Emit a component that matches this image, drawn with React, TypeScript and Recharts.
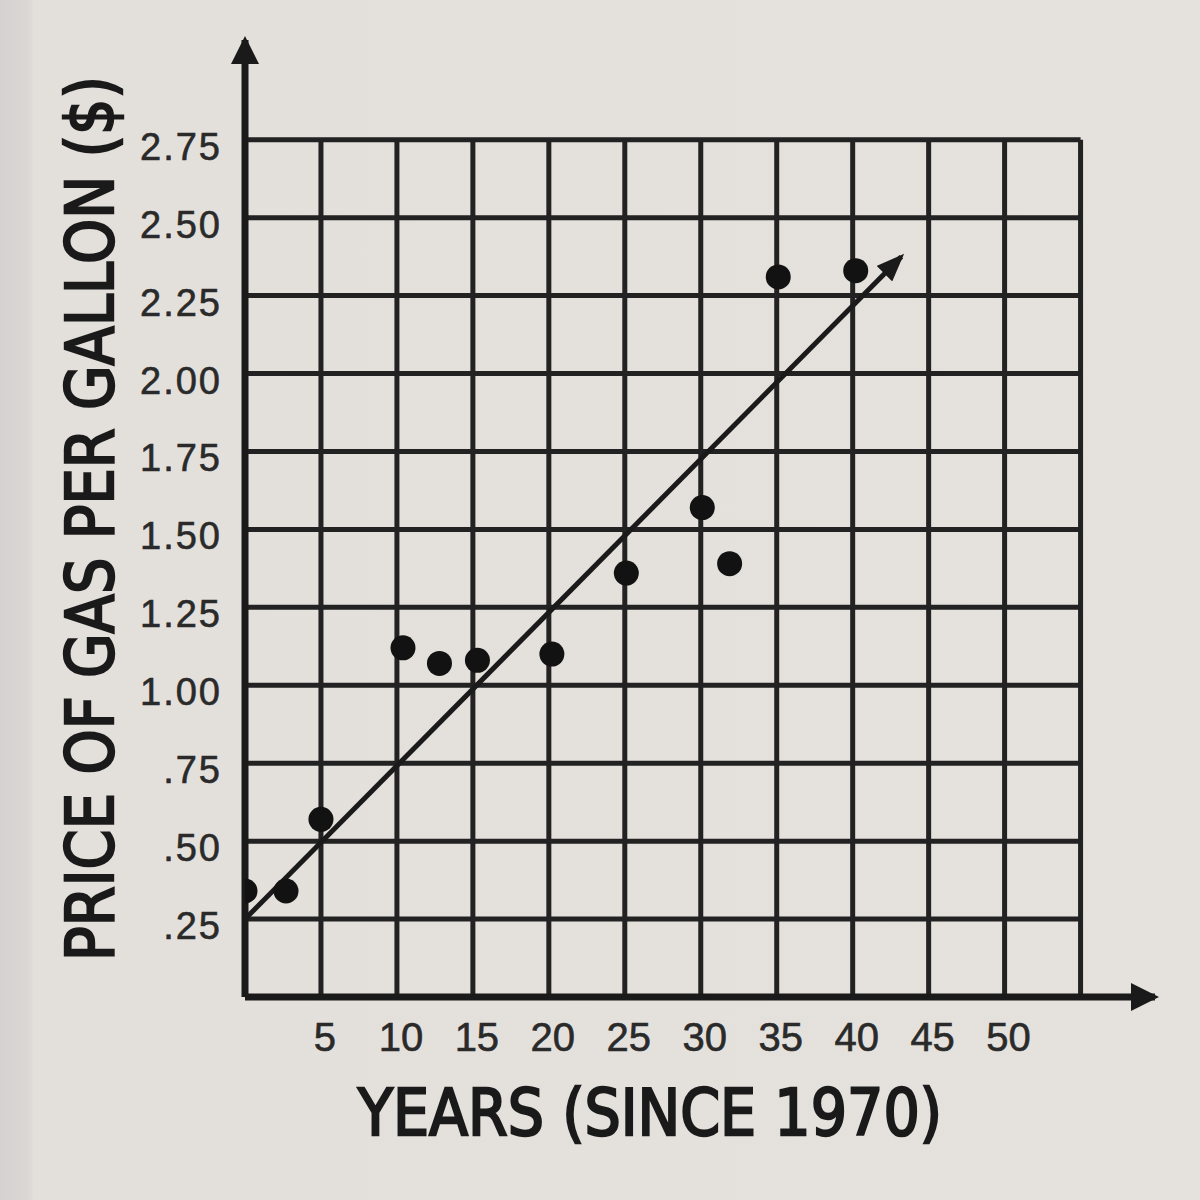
import {
  ComposedChart,
  XAxis,
  YAxis,
  Scatter,
  Line,
  ReferenceLine,
  Label,
} from "recharts";

const YEARS = [0, 2.7, 5, 10.4, 12.8, 15.3, 20.2, 25.1, 30.1, 31.9, 35.1, 40.2];
const PRICES = [0.34, 0.34, 0.57, 1.12, 1.07, 1.08, 1.1, 1.36, 1.57, 1.39, 2.31, 2.33];

// hand-drawn line of best fit (start, arrow tip)
const FIT_YEARS = [0, 43.2];
const FIT_PRICES = [0.25, 2.375];

const X_TICKS = [5, 10, 15, 20, 25, 30, 35, 40, 45, 50];
const Y_TICKS = [0.25, 0.5, 0.75, 1, 1.25, 1.5, 1.75, 2, 2.25, 2.5, 2.75];
const GRID_X = [0, 5, 10, 15, 20, 25, 30, 35, 40, 45, 50, 55];
const GRID_Y = [0, 0.25, 0.5, 0.75, 1, 1.25, 1.5, 1.75, 2, 2.25, 2.5, 2.75];

// axes run a little past the grid to their arrowheads
const X_MAX = 59.9;
const Y_MAX = 3.07;

const points = YEARS.map((year, i) => ({ year, price: PRICES[i] }));
const fit = FIT_YEARS.map((year, i) => ({ year, price: FIT_PRICES[i] }));

const INK = "#1a1a1a";
const TICK_FONT = "'Liberation Sans', Arial, sans-serif";
const TITLE_FONT = "'DejaVu Sans', sans-serif";

const fmtPrice = (v: number) => (v < 1 ? v.toFixed(2).slice(1) : v.toFixed(2));

const XTick = ({ x, y, payload }: any) => (
  <text
    x={x + 4}
    y={y + 54}
    textAnchor="middle"
    fontFamily={TICK_FONT}
    fontSize={40}
    fill="#2a2a2a"
    stroke="#2a2a2a"
    strokeWidth={0.6}
  >
    {payload.value}
  </text>
);

const YTick = ({ x, y, payload }: any) => (
  <text
    x={x - 23}
    y={y + 20}
    textAnchor="end"
    fontFamily={TICK_FONT}
    fontSize={38}
    letterSpacing={2}
    fill="#2a2a2a"
    stroke="#2a2a2a"
    strokeWidth={0.6}
  >
    {fmtPrice(payload.value)}
  </text>
);

const XTitle = ({ viewBox }: any) => (
  <text
    x={viewBox.x + 405}
    y={viewBox.y + 138}
    textAnchor="middle"
    fontFamily={TITLE_FONT}
    fontSize={64}
    textLength={584}
    lengthAdjust="spacingAndGlyphs"
    fill={INK}
    stroke={INK}
    strokeWidth={2.4}
  >
    YEARS (SINCE 1970)
  </text>
);

const YTitle = ({ viewBox }: any) => {
  const cx = viewBox.x + 68;
  const cy = viewBox.y + viewBox.height / 2;
  return (
    <text
      x={cx}
      y={cy}
      transform={`rotate(-90 ${cx} ${cy})`}
      textAnchor="middle"
      fontFamily={TITLE_FONT}
      fontSize={66}
      textLength={885}
      lengthAdjust="spacingAndGlyphs"
      fill={INK}
      stroke={INK}
      strokeWidth={2.4}
    >
      PRICE OF GAS PER GALLON ($)
    </text>
  );
};

const Dot = (p: any) => <circle cx={p.cx} cy={p.cy} r={12.5} fill="#121212" />;

export default function App() {
  return (
    <div
      style={{
        position: "absolute",
        left: 0,
        top: 0,
        width: 1200,
        height: 1200,
        background:
          "linear-gradient(90deg, #d4d2d0 0px, #dad7d4 28px, #e3dfdb 34px, #e5e1dd 100%)",
      }}
    >
      <ComposedChart
        width={1200}
        height={1200}
        margin={{ top: 40, right: 45, bottom: 93, left: 45 }}
      >
        <defs>
          <marker
            id="axisArrow"
            viewBox="0 0 28 28"
            markerWidth={28}
            markerHeight={28}
            refX={24}
            refY={14}
            orient="auto"
            markerUnits="userSpaceOnUse"
          >
            <path d="M0,0 L28,14 L0,28 z" fill={INK} />
          </marker>
          <marker
            id="fitArrow"
            viewBox="0 0 28 22"
            markerWidth={28}
            markerHeight={22}
            refX={24}
            refY={11}
            orient="auto"
            markerUnits="userSpaceOnUse"
          >
            <path d="M0,0 L28,11 L0,22 z" fill={INK} />
          </marker>
        </defs>

        <XAxis
          type="number"
          dataKey="year"
          domain={[0, X_MAX]}
          ticks={X_TICKS}
          interval={0}
          allowDataOverflow
          axisLine={false}
          tickLine={false}
          tickSize={0}
          tickMargin={0}
          height={110}
          tick={<XTick />}
        >
          <Label content={<XTitle />} />
        </XAxis>
        <YAxis
          type="number"
          dataKey="price"
          domain={[0, Y_MAX]}
          ticks={Y_TICKS}
          interval={0}
          allowDataOverflow
          axisLine={false}
          tickLine={false}
          tickSize={0}
          tickMargin={0}
          width={200}
          tick={<YTick />}
        >
          <Label content={<YTitle />} />
        </YAxis>

        {/* worksheet grid, 5 years by 25 cents */}
        {GRID_X.map((x) => (
          <ReferenceLine
            key={`gx${x}`}
            segment={[{ x, y: 0 }, { x, y: 2.75 }]}
            stroke="#222222"
            strokeWidth={5}
            ifOverflow="visible"
          />
        ))}
        {GRID_Y.map((y) => (
          <ReferenceLine
            key={`gy${y}`}
            segment={[{ x: 0, y }, { x: 55, y }]}
            stroke="#222222"
            strokeWidth={5}
            ifOverflow="visible"
          />
        ))}

        {/* axes with arrowheads */}
        <ReferenceLine
          segment={[{ x: 0, y: 0 }, { x: 0, y: Y_MAX }]}
          stroke={INK}
          strokeWidth={7}
          markerEnd="url(#axisArrow)"
          ifOverflow="visible"
        />
        <ReferenceLine
          segment={[{ x: 0, y: 0 }, { x: X_MAX, y: 0 }]}
          stroke={INK}
          strokeWidth={7}
          markerEnd="url(#axisArrow)"
          ifOverflow="visible"
        />

        <Line
          data={fit}
          dataKey="price"
          type="linear"
          stroke={INK}
          strokeWidth={5}
          dot={false}
          activeDot={false}
          markerEnd="url(#fitArrow)"
          isAnimationActive={false}
        />
        <Scatter
          data={points}
          dataKey="price"
          shape={Dot}
          isAnimationActive={false}
        />
      </ComposedChart>
    </div>
  );
}
